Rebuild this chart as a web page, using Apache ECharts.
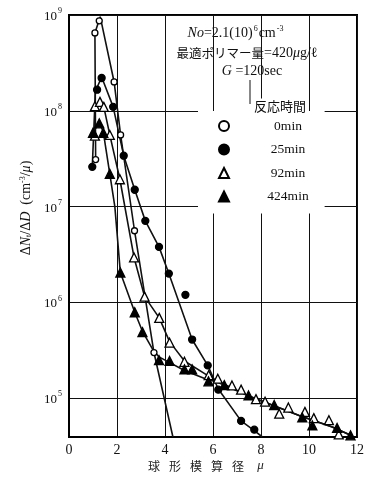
<!DOCTYPE html>
<html>
<head>
<meta charset="utf-8">
<script src="https://cdn.jsdelivr.net/npm/echarts@6/dist/echarts.min.js"></script>
<style>html,body{margin:0;padding:0;background:#fff;}#c{width:367px;height:481px;}</style>
</head>
<body>
<div id="c"></div>
<script>
// ---- data (x: diameter μ, y: ΔN/ΔD) ----
const seriesNames = ['0min', '25min', '92min', '424min'];
const xTickValues = [0, 2, 4, 6, 8, 10, 12];
const yTickExponents = [5, 6, 7, 8, 9];

// measured points
const pts0 = [[1.11,3.1e7],[1.08,6.5e8],[1.26,8.7e8],[1.88,2.0e8],[2.15,5.6e7],[2.73,5.6e6],[3.54,3.0e5]];
const pts25 = [[0.97,2.6e7],[1.17,1.66e8],[1.36,2.2e8],[1.84,1.1e8],[2.28,3.4e7],[2.74,1.5e7],[3.18,7.1e6],[3.75,3.8e6],[4.16,2.0e6],[4.85,1.2e6],[5.13,4.1e5],[5.78,2.2e5],[6.22,1.23e5],[7.17,5.8e4],[7.72,4.7e4]];
const pts92 = [[1.08,5.5e7],[1.08,1.12e8],[1.29,1.24e8],[1.45,1.1e8],[1.70,5.6e7],[2.12,1.93e7],[2.71,2.95e6],[3.15,1.15e6],[3.76,6.9e5],[4.19,3.8e5],[4.81,2.4e5],[5.82,1.74e5],[6.2,1.6e5],[6.79,1.36e5],[7.17,1.23e5],[7.79,9.8e4],[8.17,9.2e4],[8.76,6.9e4],[9.14,8.0e4],[9.83,7.2e4],[10.2,6.2e4],[10.83,5.9e4],[11.24,4.2e4]];
const pts424 = [[1.0,5.9e7],[1.26,7.4e7],[1.43,5.9e7],[1.70,2.2e7],[2.14,2.05e6],[2.74,7.9e5],[3.06,4.9e5],[3.75,2.5e5],[4.19,2.45e5],[4.81,2.0e5],[5.13,2.0e5],[5.81,1.5e5],[6.47,1.37e5],[7.48,1.07e5],[8.55,8.5e4],[9.72,6.3e4],[10.14,5.2e4],[11.17,4.9e4],[11.73,4.1e4]];

// hand-drawn fitted curves
const curve0 = [[1.11,3.1e7],[1.08,6.5e8],[1.3,9.6e8],[1.88,2.0e8],[2.15,5.6e7],[2.73,5.6e6],[3.54,3.0e5],[4.33,3.94e4]];
const curve25 = [[0.97,2.6e7],[1.1,1.6e8],[1.36,2.25e8],[1.84,1.1e8],[2.28,3.4e7],[2.74,1.5e7],[3.18,7.1e6],[3.75,3.8e6],[4.16,2.0e6],[5.13,4.1e5],[5.78,2.2e5],[6.22,1.25e5],[7.17,5.8e4],[7.72,4.6e4],[8.06,3.94e4]];
const curve92 = [[1.08,5.5e7],[1.08,1.1e8],[1.29,1.25e8],[1.45,1.1e8],[1.70,5.6e7],[2.12,1.93e7],[2.71,2.95e6],[3.15,1.15e6],[3.76,6.9e5],[4.19,3.9e5],[4.81,2.45e5],[5.82,1.7e5],[6.1,1.55e5],[7.44,1.07e5],[9.59,6.6e4],[10.97,5.0e4],[11.74,4.1e4]];
const curve424 = [[1.0,5.9e7],[1.26,7.6e7],[1.43,6.0e7],[1.70,2.2e7],[1.91,1.0e7],[2.14,2.05e6],[2.74,7.9e5],[3.06,5.0e5],[3.5,3.2e5],[3.75,2.7e5],[4.81,1.95e5],[5.81,1.55e5],[6.1,1.5e5],[7.44,1.07e5],[9.59,6.6e4],[10.97,5.0e4],[11.74,4.1e4]];

const SERIF = '"Liberation Serif","DejaVu Serif",serif';
const JP = '"Noto Sans CJK JP","Noto Sans CJK SC",sans-serif';

const chart = echarts.init(document.getElementById('c'), null, {renderer: 'canvas'});

function curve(name, data) {
  return {name: name + '_curve', type: 'line', data: data, showSymbol: false, symbol: 'none',
    lineStyle: {color: '#111', width: 1.6}, silent: true, z: 2, animation: false};
}
function pts(name, data, symbol, size, fill) {
  return {name: name, type: 'scatter', data: data, symbol: symbol, symbolSize: size, z: 3,
    itemStyle: {color: fill, borderColor: '#000', borderWidth: 1.3, opacity: 1}, animation: false};
}

const option = {
  backgroundColor: '#fff',
  animation: false,
  grid: {left: 69, right: 10, top: 15, bottom: 44, show: true, borderColor: '#000', borderWidth: 2, backgroundColor: 'transparent'},
  xAxis: {
    type: 'value', min: xTickValues[0], max: xTickValues[xTickValues.length - 1], interval: 2,
    axisLine: {show: true, lineStyle: {color: '#000', width: 2}},
    axisTick: {show: false},
    axisLabel: {color: '#111', fontFamily: SERIF, fontSize: 14, margin: 6},
    splitLine: {show: true, lineStyle: {color: '#111', width: 1}}
  },
  yAxis: {
    type: 'log', logBase: 10, min: 39400, max: 1e9,
    axisLine: {show: true, lineStyle: {color: '#000', width: 2}},
    axisTick: {show: false},
    axisLabel: {
      color: '#111', fontFamily: SERIF, margin: 7,
      formatter: function (v) {
        const l = Math.log10(v), e = Math.round(l);
        if (Math.abs(l - e) > 1e-6 || yTickExponents.indexOf(e) < 0) return '';
        return '{b|10}{s|' + e + '}';
      },
      rich: {
        b: {fontFamily: SERIF, fontSize: 13, color: '#111', lineHeight: 16, verticalAlign: 'bottom'},
        s: {fontFamily: SERIF, fontSize: 8, color: '#111', lineHeight: 16, verticalAlign: 'top', padding: [0, 0, 6, 1]}
      }
    },
    splitLine: {show: true, lineStyle: {color: '#111', width: 1}}
  },
  legend: {
    orient: 'vertical', left: 198, top: 111, padding: [8, 16, 10, 20],
    backgroundColor: '#fff', itemGap: 9.5, itemWidth: 10, itemHeight: 10,
    data: seriesNames, selectedMode: false,
    formatter: function (n) { return '{n|' + n + '}'; },
    textStyle: {color: '#111', fontFamily: SERIF, fontSize: 13,
      rich: {n: {width: 108, align: 'center', fontFamily: SERIF, fontSize: 13.5, color: '#111'}}}
  },
  series: [
    curve(seriesNames[0], curve0), curve(seriesNames[1], curve25), curve(seriesNames[2], curve92), curve(seriesNames[3], curve424),
    pts(seriesNames[0], pts0, 'circle', 6, '#fff'),
    pts(seriesNames[1], pts25, 'circle', 7, '#000'),
    pts(seriesNames[2], pts92, 'triangle', 9, '#fff'),
    pts(seriesNames[3], pts424, 'triangle', 9, '#000')
  ]
};

// annotation texts (graphic, placed in pixel layout)
option.graphic = [
  {type: 'text', z: 100, x: 236, y: 33, style: {
    text: '{i|No}{r|=2.1(10)}{s|6}{r|cm}{s|-3}', textAlign: 'center', textVerticalAlign: 'middle',
    rich: {i: {fontFamily: SERIF, fontStyle: 'italic', fontSize: 14, fill: '#111'},
           r: {fontFamily: SERIF, fontSize: 14, fill: '#111'},
           s: {fontFamily: SERIF, fontSize: 8, fill: '#111', padding: [0, 1, 8, 1]}}}},
  {type: 'text', z: 100, x: 247, y: 53, style: {
    text: '{j|最適ポリマー量}{r|=420}{i|μ}{r|g/ℓ}', textAlign: 'center', textVerticalAlign: 'middle',
    rich: {j: {fontFamily: JP, fontSize: 12.5, fill: '#111'},
           r: {fontFamily: SERIF, fontSize: 14, fill: '#111'},
           i: {fontFamily: SERIF, fontStyle: 'italic', fontSize: 14, fill: '#111'}}}},
  {type: 'text', z: 100, x: 252, y: 71, style: {
    text: '{i|G}{r| =120sec}', textAlign: 'center', textVerticalAlign: 'middle',
    rich: {i: {fontFamily: SERIF, fontStyle: 'italic', fontSize: 14, fill: '#111'},
           r: {fontFamily: SERIF, fontSize: 14, fill: '#111'}}}},
  {type: 'line', z: 100, shape: {x1: 250, y1: 80, x2: 250, y2: 104}, style: {stroke: '#111', lineWidth: 1}},
  {type: 'text', z: 100, x: 280, y: 106, style: {
    text: '反応時間', textAlign: 'center', textVerticalAlign: 'middle', fontFamily: JP, fontSize: 13, fill: '#111',
    backgroundColor: '#fff', padding: [1, 2, 1, 2]}},
  {type: 'text', z: 100, x: 26, y: 208, rotation: Math.PI / 2, style: {
    text: '{d|Δ}{i|N}{sb|t}{d|/Δ}{i|D}{d|  (cm}{sp|-3}{d|/}{i|μ}{d|)}', textAlign: 'center', textVerticalAlign: 'middle',
    rich: {d: {fontFamily: SERIF, fontSize: 14, fill: '#111'},
           i: {fontFamily: SERIF, fontStyle: 'italic', fontSize: 14, fill: '#111'},
           sb: {fontFamily: SERIF, fontSize: 8, fill: '#111', padding: [6, 0, 0, 0]},
           sp: {fontFamily: SERIF, fontSize: 8, fill: '#111', padding: [0, 0, 7, 0]}}}},
  {type: 'text', z: 100, x: 208, y: 466, style: {
    text: '{c|球}{c|形}{c|模}{c|算}{c|径}{m|μ}', textAlign: 'center', textVerticalAlign: 'middle',
    rich: {c: {fontFamily: JP, fontSize: 12, fill: '#222', width: 21, align: 'center'},
           m: {fontFamily: SERIF, fontStyle: 'italic', fontSize: 13, fill: '#222', width: 24, align: 'center'}}}}
];

chart.setOption(option);
</script>
</body>
</html>
